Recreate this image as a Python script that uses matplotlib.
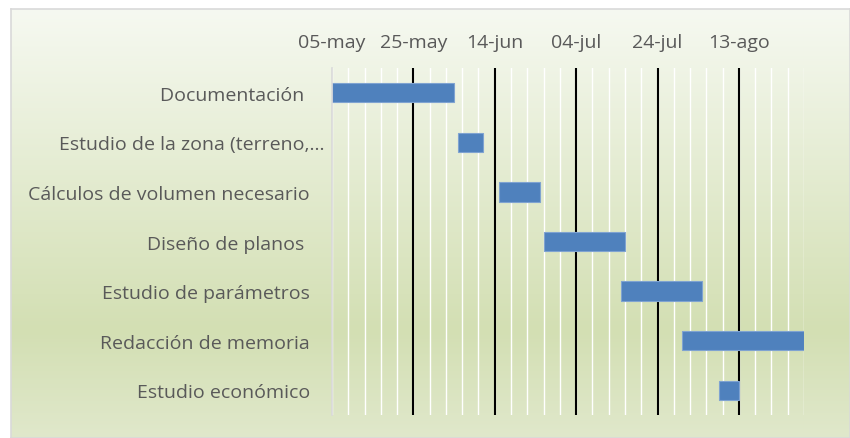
import numpy as np
import matplotlib.pyplot as plt
import matplotlib.dates as mdates
import matplotlib.transforms as mtransforms
from matplotlib.colors import LinearSegmentedColormap
from datetime import date

# Datos del diagrama de Gantt
tareas = ["Documentación ", "Estudio de la zona (terreno,…",
          "Cálculos de volumen necesario", "Diseño de planos ",
          "Estudio de parámetros", "Redacción de memoria",
          "Estudio económico"]
inicio = ["2021-05-05", "2021-06-05", "2021-06-15", "2021-06-26",
          "2021-07-15", "2021-07-30", "2021-08-08"]
duracion = [30, 6, 10, 20, 20, 30, 5]

fecha_ini = date(2021, 5, 5)
fecha_fin = date(2021, 8, 29)
meses = ["ene", "feb", "mar", "abr", "may", "jun",
         "jul", "ago", "sep", "oct", "nov", "dic"]

gris = "#595959"
plt.rcParams['font.family'] = ['Open Sans', 'DejaVu Sans']

fig = plt.figure(figsize=(8.5, 4.39), dpi=100)

# Fondo degradado del área del gráfico
bg = fig.add_axes([11/850, 0, 1 - 11/850, 429/439])
cmap = LinearSegmentedColormap.from_list(
    "fondo", [(0, "#f6f9f1"), (0.75, "#d3dfb3"), (1, "#e0e8cb")])
grad = np.linspace(0, 1, 256).reshape(-1, 1)
bg.imshow(grad, aspect="auto", cmap=cmap, extent=[0, 1, 1, 0])
bg.set_xlim(0, 1)
bg.set_ylim(1, 0)
bg.set_xticks([])
bg.set_yticks([])
for s in bg.spines.values():
    s.set_color("#d9d9d9")
    s.set_linewidth(1.2)

ax = fig.add_axes([332/850, 23/439, 472/850, 347/439])
ax.patch.set_alpha(0)

y = np.arange(len(tareas))
ini = mdates.date2num([np.datetime64(d) for d in inicio])
ax.barh(y, duracion, left=ini, height=0.39, color="#4f81bd",
        edgecolor="#7fa3d1", linewidth=0.8, zorder=3)

x0 = mdates.date2num(fecha_ini)
x1 = mdates.date2num(fecha_fin)
ax.set_xlim(x0, x1)
ax.set_ylim(len(tareas) - 0.5, -0.5)

mayores = np.arange(x0, x1, 20)
menores = np.arange(x0, x1 + 1, 4)
ax.set_xticks(mayores)
ax.set_xticks(menores, minor=True)


def etiqueta(v):
    d = mdates.num2date(v)
    return "%02d-%s" % (d.day, meses[d.month - 1])


ax.set_xticklabels([etiqueta(v) for v in mayores])
ax.xaxis.tick_top()
ax.tick_params(axis="x", which="both", length=0, pad=12,
               labelsize=14, labelcolor=gris)
ax.tick_params(axis="y", length=0, pad=16, labelsize=14, labelcolor=gris)
ax.set_yticks(y)
ax.set_yticklabels(tareas)

# Etiqueta truncada desplazada como en el original
lbl = ax.get_yticklabels()[1]
lbl.set_transform(lbl.get_transform() +
                  mtransforms.ScaledTranslation(15/100, 0, fig.dpi_scale_trans))

for v in menores:
    ax.axvline(v, color="white", linewidth=1.0, zorder=1)
for v in mayores[1:]:
    ax.axvline(v, color="black", linewidth=1.5, zorder=2)

for s in ["top", "right", "bottom"]:
    ax.spines[s].set_visible(False)
ax.spines["left"].set_color("#d9d9d9")
ax.spines["left"].set_linewidth(1.2)
ax.spines["left"].set_zorder(4)

fig.savefig("out.png", dpi=100)
